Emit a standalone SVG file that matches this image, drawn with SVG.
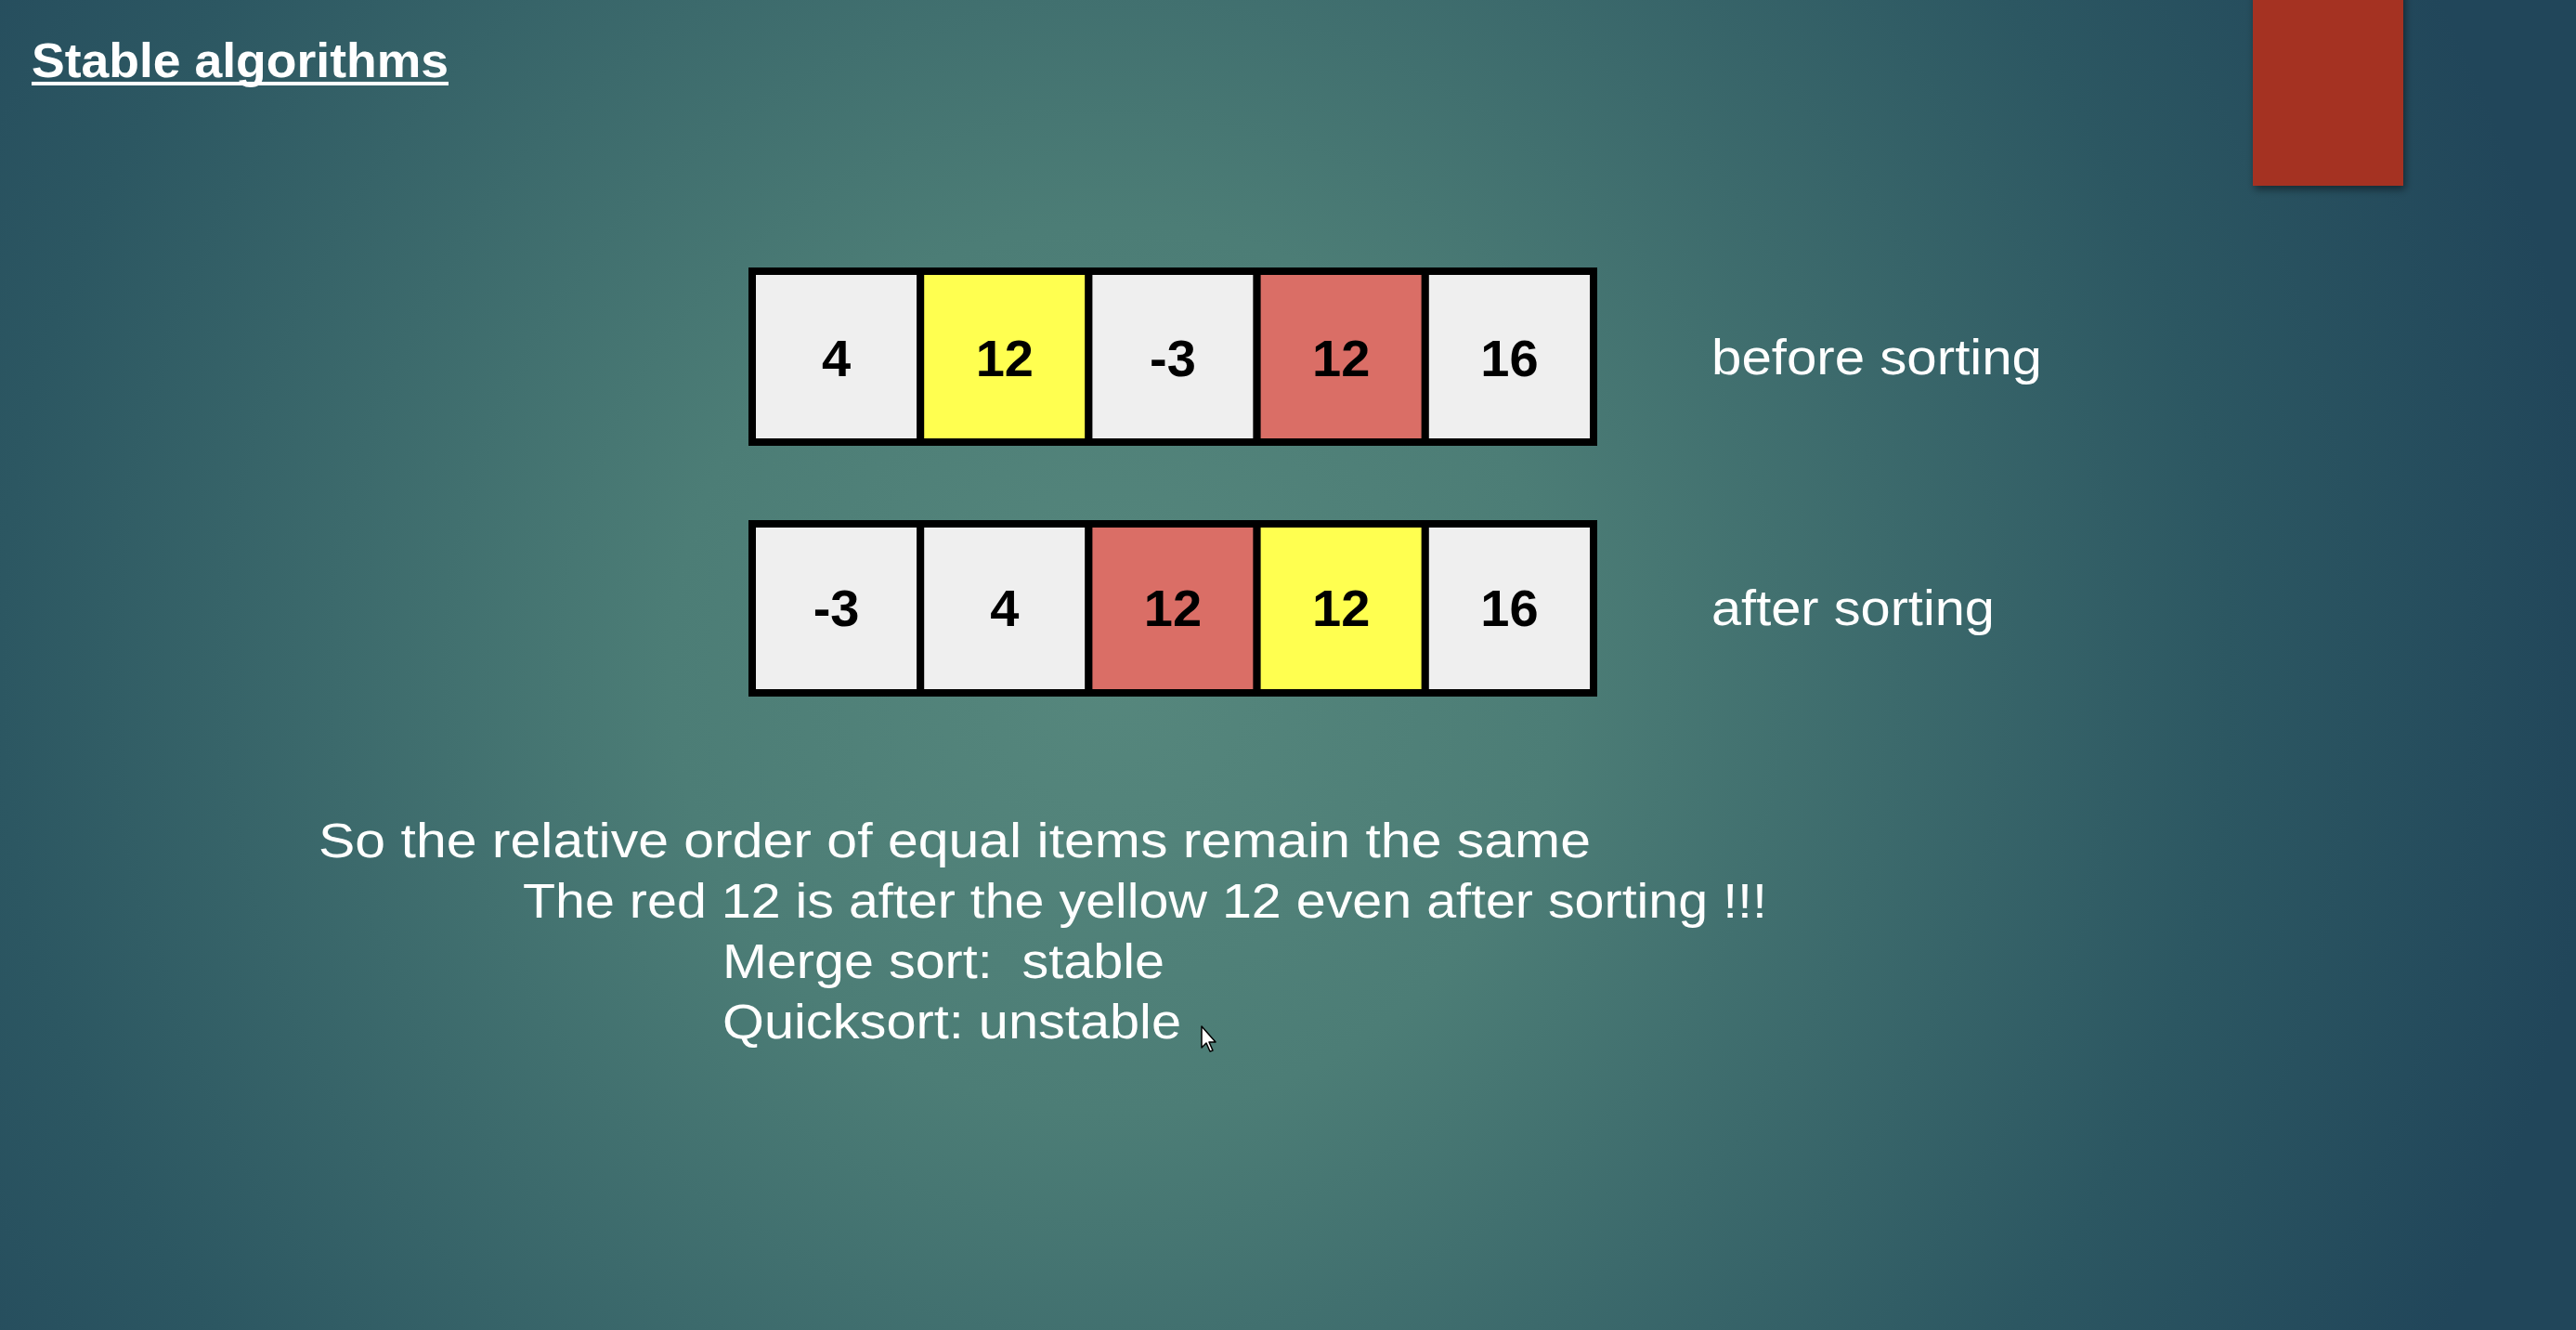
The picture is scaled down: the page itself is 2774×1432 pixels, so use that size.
<svg xmlns="http://www.w3.org/2000/svg" width="2774" height="1432" viewBox="0 0 2774 1432">
  <defs>
    <radialGradient id="bg" gradientUnits="userSpaceOnUse" cx="1200" cy="720" r="1600">
      <stop offset="0" stop-color="#56877D"/>
      <stop offset="0.3" stop-color="#4C7D76"/>
      <stop offset="0.75" stop-color="#2C5762"/>
      <stop offset="1" stop-color="#21465A"/>
    </radialGradient>
    <filter id="shadow" x="-20%" y="-20%" width="140%" height="140%">
      <feDropShadow dx="2" dy="4" stdDeviation="4" flood-color="#000" flood-opacity="0.45"/>
    </filter>
  </defs>
  <style>
    .cell { stroke: #000; stroke-width: 8; }
    .grey { fill: #EFEFEF; }
    .yellow { fill: #FFFF50; }
    .red { fill: #DA6E66; }
    .num { font-family: "Liberation Sans", Arial, sans-serif; font-weight: bold; font-size: 56px; fill: #000; text-anchor: middle; }
    .label { font-family: "Liberation Sans", Arial, sans-serif; font-size: 54px; fill: #FFFFFF; }
    .body { font-family: "Liberation Sans", Arial, sans-serif; font-size: 51px; fill: #FFFFFF; }
    .title { font-family: "Liberation Sans", Arial, sans-serif; font-weight: bold; font-size: 52px; fill: #FFFFFF; }
  </style>

  <rect x="0" y="0" width="2774" height="1432" fill="url(#bg)"/>

  <g id="title">
    <text class="title" x="34" y="83" textLength="449" lengthAdjust="spacingAndGlyphs">Stable algorithms</text>
    <rect x="34" y="88" width="449" height="4" fill="#FFFFFF"/>
  </g>

  <g id="corner-tab">
    <rect x="2426" y="-10" width="162" height="210" fill="#A53220" filter="url(#shadow)"/>
  </g>

  <g id="row-before">
    <g id="b0"><rect class="cell grey" x="810" y="292" width="181.2" height="184"/><text class="num" x="900.6" y="405">4</text></g>
    <g id="b1"><rect class="cell yellow" x="991.2" y="292" width="181.2" height="184"/><text class="num" x="1081.8" y="405">12</text></g>
    <g id="b2"><rect class="cell grey" x="1172.4" y="292" width="181.2" height="184"/><text class="num" x="1263" y="405">-3</text></g>
    <g id="b3"><rect class="cell red" x="1353.6" y="292" width="181.2" height="184"/><text class="num" x="1444.2" y="405">12</text></g>
    <g id="b4"><rect class="cell grey" x="1534.8" y="292" width="181.2" height="184"/><text class="num" x="1625.4" y="405">16</text></g>
  </g>

  <g id="row-after">
    <g id="a0"><rect class="cell grey" x="810" y="564" width="181.2" height="182"/><text class="num" x="900.6" y="674">-3</text></g>
    <g id="a1"><rect class="cell grey" x="991.2" y="564" width="181.2" height="182"/><text class="num" x="1081.8" y="674">4</text></g>
    <g id="a2"><rect class="cell red" x="1172.4" y="564" width="181.2" height="182"/><text class="num" x="1263" y="674">12</text></g>
    <g id="a3"><rect class="cell yellow" x="1353.6" y="564" width="181.2" height="182"/><text class="num" x="1444.2" y="674">12</text></g>
    <g id="a4"><rect class="cell grey" x="1534.8" y="564" width="181.2" height="182"/><text class="num" x="1625.4" y="674">16</text></g>
  </g>

  <g id="label-before"><text class="label" x="1843" y="403" textLength="356" lengthAdjust="spacingAndGlyphs">before sorting</text></g>
  <g id="label-after"><text class="label" x="1843" y="673" textLength="305" lengthAdjust="spacingAndGlyphs">after sorting</text></g>

  <g id="explanation">
    <text class="body" x="343" y="923" textLength="1370" lengthAdjust="spacingAndGlyphs">So the relative order of equal items remain the same</text>
    <text class="body" x="563" y="988" textLength="1340" lengthAdjust="spacingAndGlyphs">The red 12 is after the yellow 12 even after sorting !!!</text>
    <text class="body" x="778" y="1053" textLength="476" lengthAdjust="spacingAndGlyphs" xml:space="preserve">Merge sort:  stable</text>
    <text class="body" x="778" y="1118" textLength="494" lengthAdjust="spacingAndGlyphs">Quicksort: unstable</text>
  </g>

  <g id="cursor">
    <polygon points="1294,1105 1294,1128 1299,1123 1303,1132 1306,1131 1302,1122 1309,1122" fill="#FFFFFF" stroke="#000000" stroke-width="1.5" stroke-linejoin="round"/>
  </g>

  <g id="connectors"/>
</svg>
